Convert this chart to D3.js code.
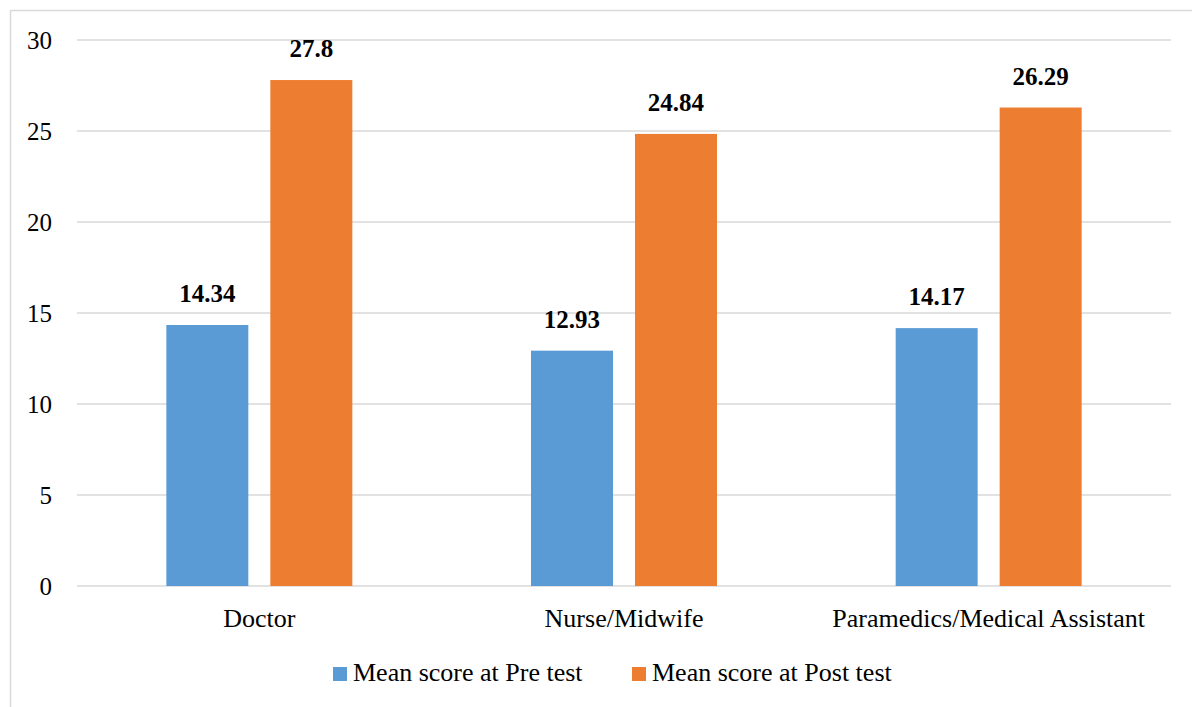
<!DOCTYPE html>
<html>
<head>
<meta charset="utf-8">
<script src="https://cdn.jsdelivr.net/npm/d3@7"></script>
<style>
  html, body { margin: 0; padding: 0; background: #fff; }
  svg { display: block; }
</style>
</head>
<body>
<svg id="chart" width="1192" height="707"></svg>
<script>
// Chart data
const categories = ["Doctor", "Nurse/Midwife", "Paramedics/Medical Assistant"];
const seriesNames = ["Mean score at Pre test", "Mean score at Post test"];
const preTest = [14.34, 12.93, 14.17];
const postTest = [27.8, 24.84, 26.29];
const yTicks = [0, 5, 10, 15, 20, 25, 30];
const seriesColors = ["#5B9BD5", "#ED7D31"];

const FONT = "Liberation Serif";

const seriesValues = [preTest, postTest];
const rows = categories.map((c, i) => ({
  category: c,
  values: seriesNames.map((s, j) => ({ series: s, value: seriesValues[j][i], color: seriesColors[j] }))
}));

const svg = d3.select("#chart").attr("font-family", FONT);

// Outer frame of the chart area
svg.append("rect")
  .attr("x", 10.5).attr("y", 10.5)
  .attr("width", 1200).attr("height", 720)
  .attr("fill", "none")
  .attr("stroke", "#d9d9d9")
  .attr("stroke-width", 1.5);

const plot = { left: 77, right: 1171, top: 40, bottom: 586 };

const x = d3.scaleBand()
  .domain(categories)
  .range([plot.left, plot.right])
  .padding(0);

const xInner = d3.scaleBand()
  .domain(seriesNames)
  .range([0, x.bandwidth()])
  .paddingInner(0.2115)
  .paddingOuter(0.859);

const y = d3.scaleLinear()
  .domain([0, 30])
  .range([plot.bottom, plot.top]);

// Horizontal gridlines
svg.append("g")
  .selectAll("line")
  .data(yTicks)
  .join("line")
  .attr("x1", plot.left).attr("x2", plot.right)
  .attr("y1", d => y(d)).attr("y2", d => y(d))
  .attr("stroke", "#d9d9d9")
  .attr("stroke-width", 1.5);

// Y axis labels
const yAxis = d3.axisLeft(y).tickValues(yTicks).tickSize(0).tickPadding(0);
const yg = svg.append("g")
  .attr("transform", "translate(52,0)")
  .call(yAxis)
  .attr("font-family", FONT)
  .attr("font-size", 25);
yg.select(".domain").remove();
yg.selectAll("text")
  .style("font-family", FONT)
  .attr("fill", "#000")
  .attr("dy", "0.34em");

// Bars
const groups = svg.append("g")
  .selectAll("g")
  .data(rows)
  .join("g")
  .attr("transform", d => `translate(${x(d.category)},0)`);

groups.selectAll("rect")
  .data(d => d.values)
  .join("rect")
  .attr("x", d => xInner(d.series))
  .attr("width", xInner.bandwidth())
  .attr("y", d => y(d.value))
  .attr("height", d => y(0) - y(d.value))
  .attr("fill", d => d.color);

// Value labels
groups.selectAll("text")
  .data(d => d.values)
  .join("text")
  .attr("x", d => xInner(d.series) + xInner.bandwidth() / 2)
  .attr("y", d => y(d.value) - 23)
  .attr("text-anchor", "middle")
  .style("font-family", FONT)
  .attr("font-size", 25)
  .attr("font-weight", "bold")
  .attr("fill", "#000")
  .text(d => d.value);

// Category axis
const xAxis = d3.axisBottom(x).tickSize(0).tickPadding(0);
const xg = svg.append("g")
  .attr("transform", `translate(0,${plot.bottom})`)
  .call(xAxis)
  .attr("font-family", FONT)
  .attr("font-size", 26);
xg.select(".domain").remove();
xg.selectAll("text")
  .style("font-family", FONT)
  .attr("fill", "#000")
  .attr("dy", 0)
  .attr("y", 41);

// Legend
const legendItems = [
  { name: seriesNames[0], color: seriesColors[0], x: 333 },
  { name: seriesNames[1], color: seriesColors[1], x: 632 }
];
const legend = svg.append("g");
const li = legend.selectAll("g")
  .data(legendItems)
  .join("g")
  .attr("transform", d => `translate(${d.x},667)`);
li.append("rect")
  .attr("width", 14).attr("height", 14)
  .attr("fill", d => d.color);
li.append("text")
  .attr("x", 20)
  .attr("y", 14)
  .style("font-family", FONT)
  .attr("font-size", 26)
  .attr("fill", "#000")
  .text(d => d.name);
</script>
</body>
</html>
